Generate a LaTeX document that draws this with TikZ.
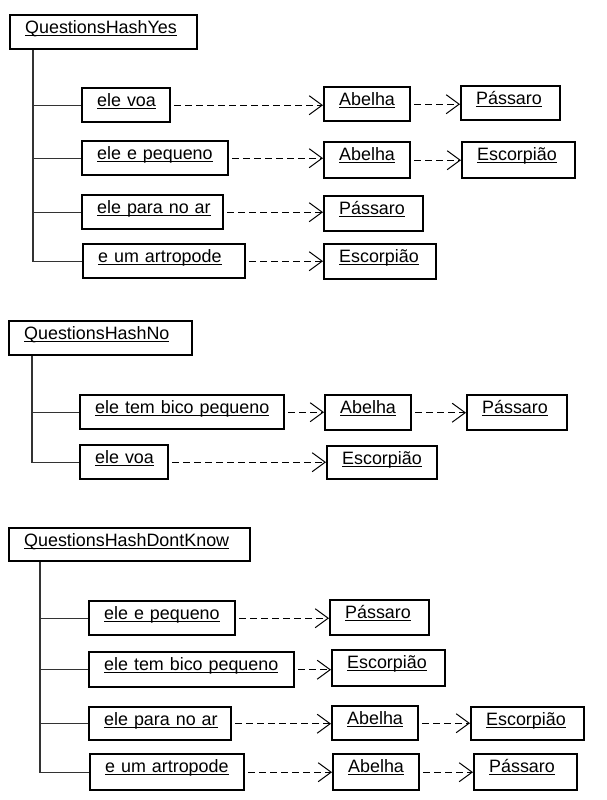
\documentclass[tikz,border=0pt]{standalone}
\usepackage{fontspec}
\setmainfont{Liberation Sans}
\usetikzlibrary{arrows.meta}

\newcommand\undr[1]{\setbox0\hbox{#1}\rlap{\rule[-3pt]{\wd0}{1pt}}\box0}

\begin{document}
\begin{tikzpicture}[x=1pt,y=-1pt,
  obj/.style={draw, line width=2.4pt, anchor=north west, inner xsep=15pt,
    inner ysep=0pt, align=left, text height=18pt, text depth=16pt,
    font=\fontsize{17.9}{20}\selectfont},
  tree/.style={line width=1.3pt, black!80},
  dep/.style={line width=1pt, dash pattern=on 6.5pt off 4.5pt,
    -{Straight Barb[length=13pt,width=19pt]}, shorten <=3pt}]

  \useasboundingbox (0,0) rectangle (606,800);

  % QuestionsHashYes
  \node[obj, text width=157pt] (yes) at (9,14) {\undr{QuestionsHashYes}};
  \node[obj, text width=58pt]  (yes1)  at (81,87)   {\undr{ele voa}};
  \node[obj, text width=56pt]  (yes1a) at (323,86)  {\undr{Abelha}};
  \node[obj, text width=69pt]  (yes1b) at (460,85)  {\undr{Pássaro}};
  \node[obj, text width=116pt] (yes2)  at (81,140)  {\undr{ele e pequeno}};
  \node[obj, text width=56pt, text depth=18pt] (yes2a) at (323,141) {\undr{Abelha}};
  \node[obj, text width=83pt, text depth=18pt] (yes2b) at (461,141) {\undr{Escorpião}};
  \node[obj, text width=111pt] (yes3)  at (81,194)  {\undr{ele para no ar}};
  \node[obj, text width=69pt, text depth=17pt] (yes3a) at (323,195) {\undr{Pássaro}};
  \node[obj, text width=132pt] (yes4)  at (82,243)  {\undr{e um artropode}};
  \node[obj, text width=82pt, text depth=17pt] (yes4a) at (323,243) {\undr{Escorpião}};

  \draw[tree] ([xshift=24pt]yes.south west) |- (yes4.west);
  \foreach \c in {yes1,yes2,yes3}
    \draw[tree] ([xshift=24pt]yes.south west |- \c.west) -- (\c.west);

  \draw[dep] (yes1.east) -- (yes1.east -| yes1a.west);
  \draw[dep] (yes1a.east) -- (yes1a.east -| yes1b.west);
  \draw[dep] (yes2.east) -- (yes2.east -| yes2a.west);
  \draw[dep] (yes2a.east) -- (yes2a.east -| yes2b.west);
  \draw[dep] (yes3.east) -- (yes3.east -| yes3a.west);
  \draw[dep] (yes4.east) -- (yes4.east -| yes4a.west);

  % QuestionsHashNo
  \node[obj, text width=153pt] (no) at (8,320) {\undr{QuestionsHashNo}};
  \node[obj, text width=174pt] (no1)  at (79,394)  {\undr{ele tem bico pequeno}};
  \node[obj, text width=56pt, text depth=17pt] (no1a) at (324,394) {\undr{Abelha}};
  \node[obj, text width=70pt, text depth=17pt] (no1b) at (466,394) {\undr{Pássaro}};
  \node[obj, text width=58pt]  (no2)  at (79,444)  {\undr{ele voa}};
  \node[obj, text width=80pt, text depth=15pt] (no2a) at (326,445) {\undr{Escorpião}};

  \draw[tree] ([xshift=24pt]no.south west) |- (no2.west);
  \draw[tree] ([xshift=24pt]no.south west |- no1.west) -- (no1.west);

  \draw[dep] (no1.east) -- (no1.east -| no1a.west);
  \draw[dep] (no1a.east) -- (no1a.east -| no1b.west);
  \draw[dep] (no2.east) -- (no2.east -| no2a.west);

  % QuestionsHashDontKnow
  \node[obj, text width=211pt, text depth=15pt] (dk) at (8,527) {\undr{QuestionsHashDontKnow}};
  \node[obj, text width=116pt] (dk1)  at (88,600)  {\undr{ele e pequeno}};
  \node[obj, text width=69pt, text depth=17pt] (dk1a) at (329,599) {\undr{Pássaro}};
  \node[obj, text width=175pt, text depth=17pt] (dk2)  at (88,651)  {\undr{ele tem bico pequeno}};
  \node[obj, text width=83pt, text depth=18pt] (dk2a) at (331,649) {\undr{Escorpião}};
  \node[obj, text width=112pt, text depth=15pt] (dk3)  at (88,706)  {\undr{ele para no ar}};
  \node[obj, text width=56pt]  (dk3a) at (331,705) {\undr{Abelha}};
  \node[obj, text width=83pt, text depth=15pt] (dk3b) at (470,706) {\undr{Escorpião}};
  \node[obj, text width=124pt, text depth=18pt] (dk4)  at (89,753)  {\undr{e um artropode}};
  \node[obj, text width=56pt, text depth=18pt] (dk4a) at (332,753) {\undr{Abelha}};
  \node[obj, text width=73pt, text depth=18pt] (dk4b) at (473,753) {\undr{Pássaro}};

  \draw[tree] ([xshift=32pt]dk.south west) |- (dk4.west);
  \foreach \c in {dk1,dk2,dk3}
    \draw[tree] ([xshift=32pt]dk.south west |- \c.west) -- (\c.west);

  \draw[dep] (dk1.east) -- (dk1.east -| dk1a.west);
  \draw[dep] (dk2.east) -- (dk2.east -| dk2a.west);
  \draw[dep] (dk3.east) -- (dk3.east -| dk3a.west);
  \draw[dep] (dk3a.east) -- (dk3a.east -| dk3b.west);
  \draw[dep] (dk4.east) -- (dk4.east -| dk4a.west);
  \draw[dep] (dk4a.east) -- (dk4a.east -| dk4b.west);

\end{tikzpicture}
\end{document}
